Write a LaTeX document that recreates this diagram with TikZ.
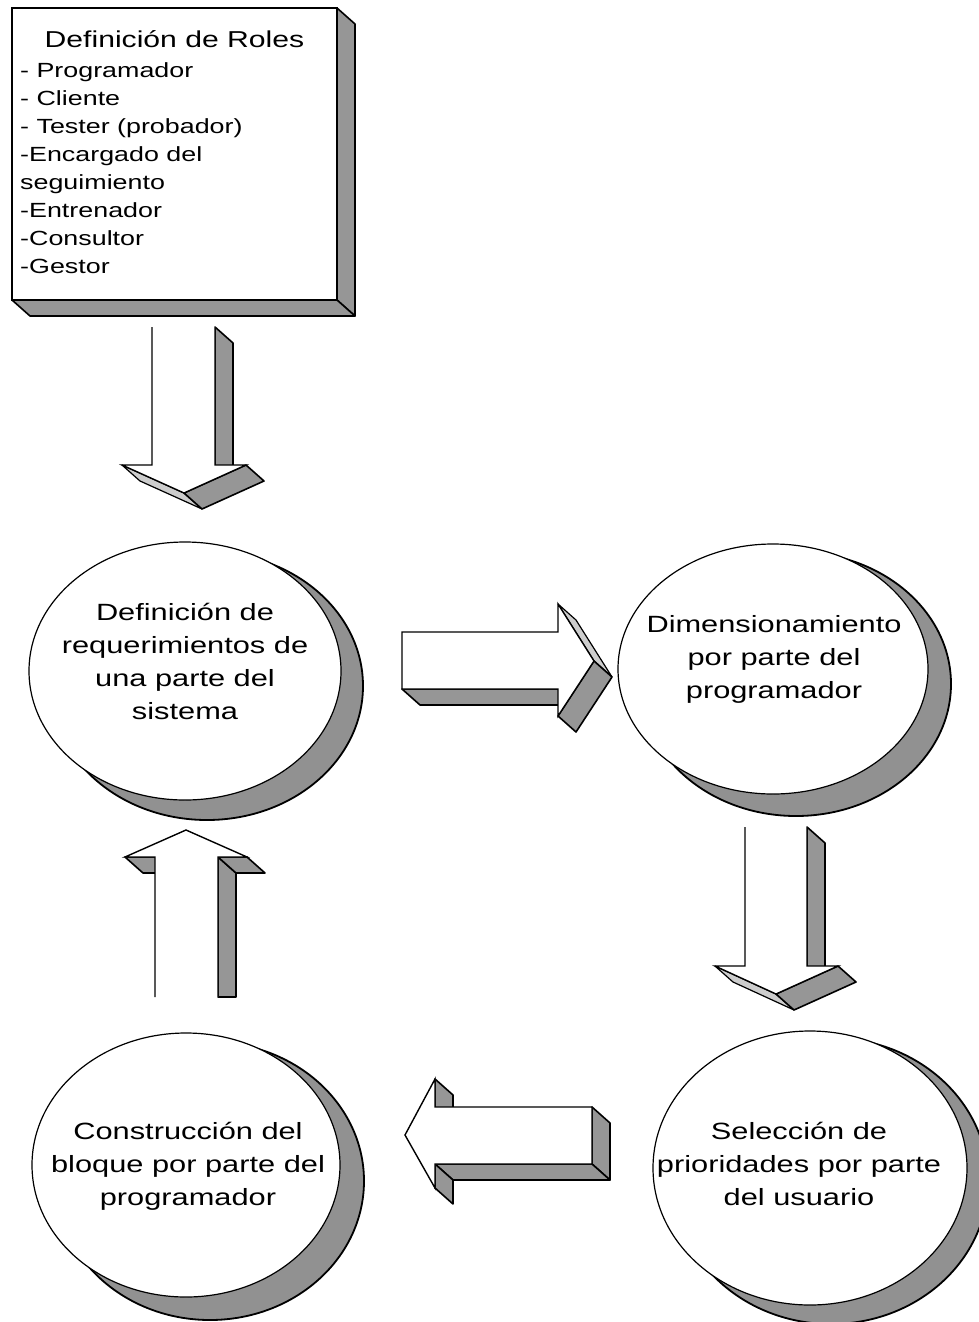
\documentclass[tikz,border=0pt]{standalone}
\usepackage{fontspec}
\setmainfont{Liberation Sans}[FakeStretch=1.31]
\definecolor{sidegray}{RGB}{150,150,150}
\definecolor{litegray}{RGB}{205,205,205}
\definecolor{shadowgray}{RGB}{145,145,145}
\begin{document}
\begin{tikzpicture}[x=1pt,y=-1pt,
  front/.style={fill=white,draw=black,line width=1.4pt,line join=miter},
  frontfill/.style={fill=white,draw=none},
  outline/.style={draw=black,line width=1.4pt,line join=miter},
  side/.style={fill=sidegray,draw=black,line width=1.6pt,line join=round},
  sliver/.style={fill=litegray,draw=black,line width=1.2pt,line join=round},
  bubble/.style={fill=white,draw=black,line width=1.2pt},
  bubbleshadow/.style={fill=shadowgray,draw=black,line width=1.8pt},
  bubbletext/.style={align=center,inner sep=0pt,
    font=\fontsize{23.5}{33}\selectfont},
]
\useasboundingbox (0,0) rectangle (978,1322);

% ---- roles box (extruded block) ----
\path[side] (337,8) -- (355,24) -- (355,316) -- (337,300) -- cycle;
\path[side] (12,300) -- (337,300) -- (355,316) -- (30,316) -- cycle;
\path[front] (12,8) rectangle (337,300);
\node[anchor=base,inner sep=0pt,font=\fontsize{23}{28}\selectfont]
  (rolestitle) at (174.5,48) {Definición de Roles};
\node[anchor=north west,inner sep=0pt,align=left,
  font=\fontsize{20.5}{28.1}\selectfont] (roles) at (20,62)
  {- Programador\\- Cliente\\- Tester (probador)\\-Encargado del\\seguimiento\\-Entrenador\\-Consultor\\-Gestor};

% ---- down arrow: roles -> requirements ----
\path[side] (215,465) -- (215,327) -- (233,343) -- (233,481) -- cycle;
\path[sliver] (122,465) -- (184,493) -- (202,509) -- (140,481) -- cycle;
\path[side] (184,493) -- (246,465) -- (264,481) -- (202,509) -- cycle;
\path[frontfill] (152,327) -- (152,465) -- (122,465) -- (184,493) -- (246,465) -- (215,465) -- (215,327) -- cycle;
\path[outline] (152,327) -- (152,465) -- (122,465) -- (184,493) -- (246,465) -- (215,465) -- (215,327);

% ---- process bubbles (front ellipse over a shifted, taller shadow) ----
\path[bubbleshadow] (207,686) ellipse [x radius=156pt,y radius=134pt];
\path[bubble] (185,671) ellipse [x radius=156pt,y radius=129pt];
\node[bubbletext] (req) at (185,661)
  {Definición de\\requerimientos de\\una parte del\\sistema};

\path[bubbleshadow] (796,684) ellipse [x radius=155pt,y radius=132pt];
\path[bubble] (773,669) ellipse [x radius=155pt,y radius=125pt];
\node[bubbletext] (dim) at (774,659)
  {Dimensionamiento\\por parte del\\programador};

\path[bubbleshadow] (210,1181) ellipse [x radius=154pt,y radius=139pt];
\path[bubble] (186,1165) ellipse [x radius=154pt,y radius=132pt];
\node[bubbletext] (cons) at (188,1166)
  {Construcción del\\bloque por parte del\\programador};

\path[bubbleshadow] (831,1181) ellipse [x radius=157pt,y radius=143pt];
\path[bubble] (810,1168) ellipse [x radius=157pt,y radius=137pt];
\node[bubbletext] (sel) at (799,1164)
  {Selección de\\prioridades por parte\\del usuario};

% ---- right arrow: requirements -> sizing ----
\path[side] (402,689) -- (558,689) -- (576,705) -- (420,705) -- cycle;
\path[sliver] (558,604) -- (594,661) -- (612,677) -- (576,620) -- cycle;
\path[side] (594,661) -- (558,716) -- (576,732) -- (612,677) -- cycle;
\path[front] (402,632) -- (558,632) -- (558,604) -- (594,661) -- (558,716) -- (558,689) -- (402,689) -- cycle;

% ---- down arrow: sizing -> priorities ----
\path[side] (807,966) -- (807,827) -- (825,843) -- (825,982) -- cycle;
\path[sliver] (715,966) -- (776,994) -- (794,1010) -- (733,982) -- cycle;
\path[side] (776,994) -- (838,966) -- (856,982) -- (794,1010) -- cycle;
\path[frontfill] (745,827) -- (745,966) -- (715,966) -- (776,994) -- (838,966) -- (807,966) -- (807,827) -- cycle;
\path[outline] (745,827) -- (745,966) -- (715,966) -- (776,994) -- (838,966) -- (807,966) -- (807,827);

% ---- left arrow: priorities -> construction ----
\path[side] (592,1107) -- (592,1164) -- (610,1180) -- (610,1123) -- cycle;
\path[side] (435,1164) -- (592,1164) -- (610,1180) -- (453,1180) -- cycle;
\path[side] (435,1079) -- (435,1107) -- (453,1123) -- (453,1095) -- cycle;
\path[side] (435,1164) -- (435,1188) -- (453,1204) -- (453,1180) -- cycle;
\path[front] (405,1135) -- (435,1079) -- (435,1107) -- (592,1107) -- (592,1164) -- (435,1164) -- (435,1188) -- cycle;

% ---- up arrow: construction -> requirements ----
\path[side] (218,857) -- (236,873) -- (236,997) -- (218,997) -- cycle;
\path[side] (218,857) -- (247,857) -- (265,873) -- (236,873) -- cycle;
\path[side] (125,857) -- (155,857) -- (173,873) -- (143,873) -- cycle;
\path[frontfill] (186,830) -- (125,857) -- (155,857) -- (155,997) -- (218,997) -- (218,857) -- (247,857) -- cycle;
\path[outline] (155,997) -- (155,857) -- (125,857) -- (186,830) -- (247,857) -- (218,857) -- (218,997);
\end{tikzpicture}
\end{document}
